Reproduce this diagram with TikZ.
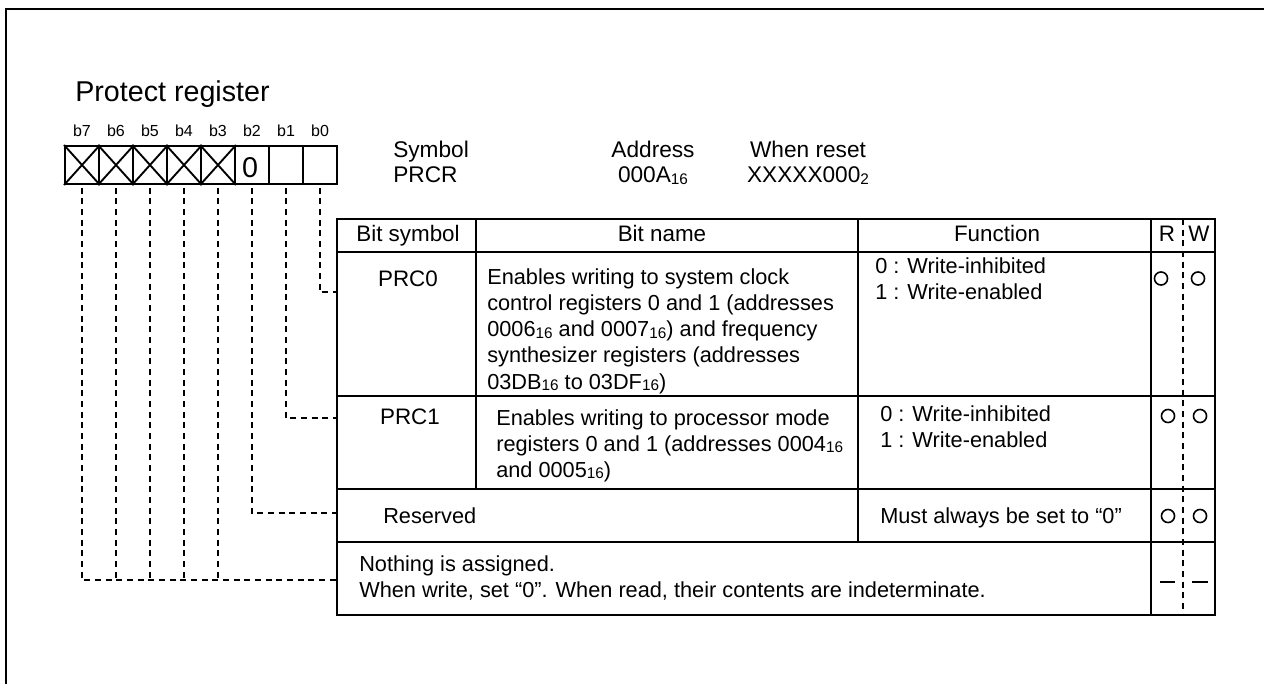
\documentclass[tikz,border=0pt]{standalone}
\usepackage{fontspec}
\setmainfont{Liberation Sans}
\newcommand{\subsc}[1]{{\fontsize{11.5}{11.5}\selectfont\raisebox{-1.2pt}{#1}}}
\begin{document}
\begin{tikzpicture}[x=0.75pt,y=-0.75pt,
  frame/.style={line width=1.9pt},
  tline/.style={line width=1.5pt},
  dl/.style={line width=1.5pt, dash pattern=on 4.5pt off 3.5pt},
  cell/.style={draw, line width=1.5pt, minimum width=25.5pt, minimum height=28.5pt, inner sep=0pt},
  lbl/.style={inner sep=0pt, anchor=base, font=\fontsize{12}{12}\selectfont},
  txt/.style={inner sep=0pt, anchor=base west, font=\fontsize{16.3}{16.3}\selectfont},
  ctxt/.style={inner sep=0pt, anchor=base, font=\fontsize{16.8}{16.8}\selectfont},
  hdr/.style={inner sep=0pt, font=\fontsize{17}{17}\selectfont},
  rw/.style={circle, draw, line width=1.2pt, minimum size=9.8pt, inner sep=0pt},
]
\useasboundingbox (0,0) rectangle (1264,684);
\draw[frame] (6,684) -- (6,9) -- (1264,9);

% title
\node[txt, font=\fontsize{21.5}{21.5}\selectfont] (title) at (75,102) {Protect register};

% register cells
\foreach \i in {0,...,7} {
  \node[cell] (c\i) at ({320-34*\i},165) {};
  \node[lbl] (l\i) at ({320-34*\i},137) {b\i};
}
\foreach \i in {3,...,7} {
  \draw[line width=1.4pt] (c\i.north west) -- (c\i.south east);
  \draw[line width=1.4pt] (c\i.south west) -- (c\i.north east);
}
\node[inner sep=0pt, anchor=base, font=\fontsize{21.5}{21.5}\selectfont] (zero) at (250,178) {0};

% symbol / address / reset
\node[hdr, anchor=base west] (sym) at (393,158) {Symbol};
\node[hdr, anchor=base west] (prcr) at (393,183) {PRCR};
\node[hdr, anchor=base] (addr) at (653,158) {Address};
\node[hdr, anchor=base] (addrv) at (653,183) {000A\subsc{16}};
\node[hdr, anchor=base] (rst) at (808,158) {When reset};
\node[hdr, anchor=base] (rstv) at (808,183) {XXXXX000\subsc{2}};

% table
\draw[tline] (337,219) rectangle (1215,615);
\draw[tline] (337,252) -- (1215,252);
\draw[tline] (337,396) -- (1215,396);
\draw[tline] (337,489) -- (1215,489);
\draw[tline] (337,542) -- (1215,542);
\draw[tline] (476,219) -- (476,489);
\draw[tline] (858,219) -- (858,542);
\draw[tline] (1151,219) -- (1151,615);
\draw[dl, line width=1.2pt] (1183,219) -- (1183,615);

% header row
\node[ctxt] (hbs) at (408,242) {Bit symbol};
\node[ctxt] (hbn) at (662,242) {Bit name};
\node[ctxt] (hfn) at (997,242) {Function};
\node[ctxt] (hr) at (1167,242) {R};
\node[ctxt] (hw) at (1199,242) {W};

% PRC0 row
\node[ctxt] (p0) at (408,287) {PRC0};
\node[txt] (p0n1) at (487,285) {Enables writing to system clock};
\node[txt] (p0n2) at (487,311) {control registers 0 and 1 (addresses};
\node[txt] (p0n3) at (487,337) {0006\subsc{16} and 0007\subsc{16}) and frequency};
\node[txt] (p0n4) at (487,363) {synthesizer registers (addresses};
\node[txt] (p0n5) at (487,389) {03DB\subsc{16} to 03DF\subsc{16})};
\node[txt] (p0f1) at (875,274) {0 : Write-inhibited};
\node[txt] (p0f2) at (875,300) {1 : Write-enabled};
\node[rw] (p0r) at (1161,278.5) {};
\node[rw] (p0w) at (1198,278.5) {};

% PRC1 row
\node[ctxt] (p1) at (410,424) {PRC1};
\node[txt] (p1n1) at (496,425) {Enables writing to processor mode};
\node[txt] (p1n2) at (496,451) {registers 0 and 1 (addresses 0004\subsc{16}};
\node[txt] (p1n3) at (496,477) {and 0005\subsc{16})};
\node[txt] (p1f1) at (880,421) {0 : Write-inhibited};
\node[txt] (p1f2) at (880,447) {1 : Write-enabled};
\node[rw] (p1r) at (1168,416) {};
\node[rw] (p1w) at (1200,416) {};

% Reserved row
\node[txt] (rs) at (383,523) {Reserved};
\node[txt] (rsf) at (880,523) {Must always be set to “0”};
\node[rw] (rsr) at (1168,516) {};
\node[rw] (rsw) at (1200,516) {};

% Nothing row
\node[txt] (na1) at (359,571) {Nothing is assigned.};
\node[txt] (na2) at (359,597) {When write, set “0”. When read, their contents are indeterminate.};
\coordinate (nr1) at (1160,582);
\coordinate (nr2) at (1175,582);
\coordinate (nw1) at (1192,582);
\coordinate (nw2) at (1208,582);
\draw[line width=1.2pt] (nr1) -- (nr2);
\draw[line width=1.2pt] (nw1) -- (nw2);

% connectors
\coordinate (a0) at (337,292);
\coordinate (a1) at (337,418);
\coordinate (a2) at (337,513);
\coordinate (a3) at (337,580);
\draw[dl, shorten <=2pt] (c0.south) |- (a0);
\draw[dl, shorten <=2pt] (c1.south) |- (a1);
\draw[dl, shorten <=2pt] (c2.south) |- (a2);
\draw[dl, shorten <=2pt] (c7.south) |- (a3);
\foreach \i in {3,...,6} {
  \draw[dl, shorten <=2pt] (c\i.south) -- (c\i.south |- a3);
}
\end{tikzpicture}
\end{document}
